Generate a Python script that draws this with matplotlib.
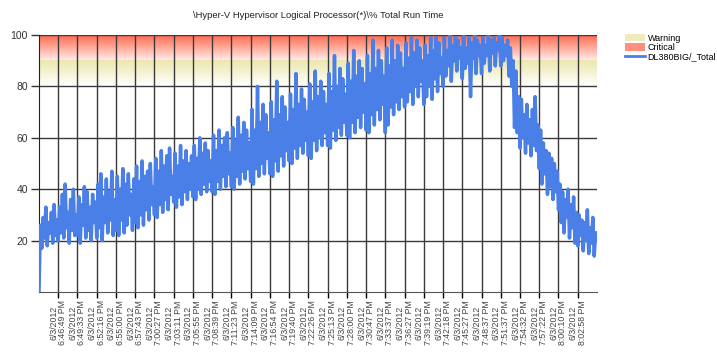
import numpy as np
import matplotlib.pyplot as plt
from matplotlib.colors import LinearSegmentedColormap
from matplotlib.patches import Patch
from matplotlib.lines import Line2D

title = "\\Hyper-V Hypervisor Logical Processor(*)\\% Total Run Time"
series_name = "DL380BIG/_Total"

tick_times = ["6:46:49 PM", "6:49:33 PM", "6:52:16 PM", "6:55:00 PM", "6:57:43 PM",
              "7:00:27 PM", "7:03:11 PM", "7:05:55 PM", "7:08:39 PM", "7:11:23 PM",
              "7:14:09 PM", "7:16:54 PM", "7:19:40 PM", "7:22:26 PM", "7:25:13 PM",
              "7:28:00 PM", "7:30:47 PM", "7:33:37 PM", "7:36:27 PM", "7:39:19 PM",
              "7:42:18 PM", "7:45:27 PM", "7:48:37 PM", "7:51:37 PM", "7:54:32 PM",
              "7:57:22 PM", "8:00:10 PM", "8:02:58 PM"]
tick_date = "6/3/2012"
samples_per_tick = 14

warning = (80, 90)
critical = (90, 100)

run_time = [
    0, 26, 17, 29, 21, 33, 18, 27, 23, 31, 19, 34, 22, 28,
    20, 33, 23, 38, 21, 42, 25, 31, 19, 36, 24, 40, 22, 30,
    22, 37, 19, 34, 26, 41, 21, 39, 24, 33, 20, 38, 27, 35,
    21, 42, 25, 46, 20, 37, 27, 44, 23, 39, 28, 47, 22, 36,
    24, 45, 22, 40, 28, 48, 23, 42, 26, 46, 30, 38, 24, 44,
    27, 49, 25, 43, 30, 51, 26, 45, 32, 47, 28, 50, 34, 41,
    30, 52, 29, 47, 34, 55, 31, 49, 36, 53, 32, 56, 38, 45,
    35, 54, 33, 49, 37, 57, 34, 51, 39, 55, 36, 50, 40, 53,
    37, 57, 36, 52, 40, 60, 38, 54, 42, 58, 39, 55, 43, 51,
    39, 61, 38, 55, 43, 63, 40, 57, 45, 60, 41, 62, 46, 54,
    41, 64, 40, 59, 45, 68, 42, 61, 47, 66, 44, 63, 48, 58,
    43, 71, 42, 63, 48, 80, 45, 66, 50, 73, 46, 69, 52, 62,
    46, 74, 45, 67, 51, 82, 47, 69, 53, 76, 49, 72, 55, 66,
    51, 77, 50, 71, 56, 85, 52, 73, 57, 79, 54, 75, 59, 70,
    53, 81, 52, 74, 59, 86, 55, 76, 60, 82, 57, 78, 62, 73,
    57, 85, 56, 78, 63, 92, 59, 80, 64, 87, 61, 83, 66, 77,
    61, 89, 60, 82, 66, 94, 62, 84, 68, 90, 64, 87, 70, 81,
    63, 92, 62, 85, 69, 98, 65, 87, 71, 94, 67, 90, 73, 84,
    62, 95, 65, 88, 72, 98, 69, 90, 74, 96, 71, 93, 76, 87,
    72, 97, 74, 91, 78, 99, 73, 93, 80, 98, 76, 95, 82, 90,
    73, 96, 76, 92, 80, 99, 75, 94, 83, 99, 78, 97, 85, 91,
    80, 99, 84, 94, 88, 100, 82, 96, 90, 99, 86, 98, 91, 95,
    83, 100, 87, 95, 89, 99, 76, 97, 91, 100, 85, 98, 92, 96,
    85, 99, 89, 96, 92, 100, 86, 98, 93, 99, 88, 97, 94, 100,
    88, 99, 90, 96, 92, 98, 84, 95, 80, 90, 64, 86, 62, 76,
    56, 75, 60, 69, 54, 73, 58, 67, 53, 71, 57, 76, 55, 65,
    48, 63, 42, 58, 46, 55, 38, 54, 41, 52, 36, 50, 39, 47,
    32, 42, 27, 39, 23, 36, 29, 40, 21, 34, 25, 37, 19, 31,
    18, 30, 22, 28, 16, 27, 20, 32, 15, 25, 19, 29, 14, 23,
]

plt.rcParams['font.family'] = ['Liberation Sans', 'DejaVu Sans']

fig = plt.figure(figsize=(7.17, 3.54), dpi=100)
ax = fig.add_axes([0.0544, 0.1751, 0.7782, 0.726])

n = len(run_time)
x = np.arange(n)
tick_pos = np.arange(1, len(tick_times) + 1) * samples_per_tick

# gradient bands
grad = np.linspace(0, 1, 256).reshape(-1, 1)
crit_cmap = LinearSegmentedColormap.from_list("crit", ["#fff0ec", "#ff6a50"])
warn_cmap = LinearSegmentedColormap.from_list("warn", ["#ffffff", "#ebe7ad"])
ax.imshow(grad, cmap=crit_cmap, origin="lower", aspect="auto",
          extent=(0, n, critical[0], critical[1]), zorder=0)
ax.imshow(grad, cmap=warn_cmap, origin="lower", aspect="auto",
          extent=(0, n, warning[0], warning[1]), zorder=0)

ax.plot(x, run_time, color="#4a7fe8", lw=2.5, zorder=3)

ax.set_xlim(0, n)
ax.set_ylim(0, 100)
ax.set_yticks([20, 40, 60, 80, 100])
ax.set_xticks(tick_pos)
ax.set_xticklabels([tick_date + "\n" + t for t in tick_times], rotation=90,
                   fontsize=6.3, color="#444444", linespacing=1.0)
ax.tick_params(axis="y", labelsize=7.5, colors="#333333", length=6, width=1, pad=2)
ax.tick_params(axis="x", length=4, width=1, pad=2)
ax.grid(True, color="#3a3a3a", lw=1.0, zorder=1)
ax.set_axisbelow(True)
for s in ["top", "right"]:
    ax.spines[s].set_visible(False)
ax.spines["left"].set_color("#222222")
ax.spines["bottom"].set_color("#555555")

ax.set_title(title, fontsize=6.8, pad=12, color="#222222")

handles = [Patch(facecolor="#eeebbd", edgecolor="none", label="Warning"),
           Patch(facecolor="#ff8f7f", edgecolor="none", label="Critical"),
           Line2D([0], [0], color="#4a7fe8", lw=2, label=series_name)]
fig.legend(handles=handles, loc="upper left", bbox_to_anchor=(0.871, 0.905),
           frameon=False, fontsize=6.5, handlelength=2.3, handleheight=0.9,
           labelspacing=0.05, handletextpad=0.25, borderpad=0, borderaxespad=0)

fig.savefig("out.png", dpi=100)
